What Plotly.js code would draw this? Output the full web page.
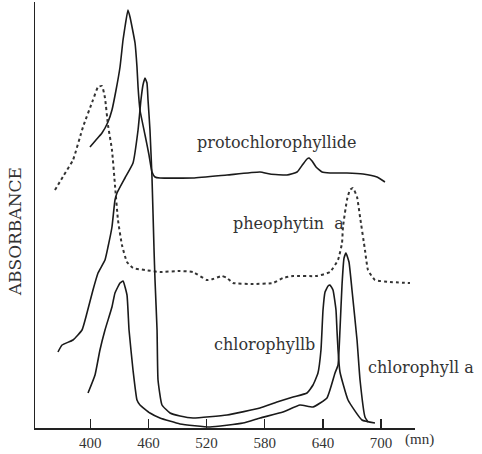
<!DOCTYPE html>
<html>
<head>
<meta charset="utf-8">
<script src="https://cdn.plot.ly/plotly-3.0.1.min.js"></script>
<style>html,body{margin:0;padding:0;background:#fff;}#chart{width:482px;height:454px;}</style>
</head>
<body>
<div id="chart"></div>
<script>
// Wavelength (nm) and absorbance (arbitrary units, curves offset as in the original figure)
const protoWl = [399.7,405.9,412.1,418.3,422.4,426.6,430.7,433.8,435.8,438.9,441,443.1,446.2,448.2,449.3,451.3,456.5,460.6,463.7,466.8,471.9,506,541.1,575.1,585.4,603,613.3,619.5,623.6,625.7,628.8,632.9,639.1,647.3,664.8,681.4,695.8,704];
const protoAbs = [281,288,295,306,318,338,361,388,401,418,411,401,385,361,341,318,293,273,256,251,250,250,253,256,254,253,256,264,269,270,267,261,256,255,255,254,251,246];

const pheoWl = [363.6,372.9,382.2,392.5,402.8,408,412.1,415.2,418.3,422.4,425.5,428.6,432.7,437.9,444.1,456.5,471.9,492.6,506,520.4,526.6,535.9,541.1,547.3,567.9,588.5,598.8,609.2,633.9,647.3,655.6,659.7,660.7,664.8,667.9,671,675.2,678.3,683.4,686.5,693.7,709.2,729.8];
const pheoAbs = [238,253,268,301,328,341,342,330,303,278,243,208,183,166,160,158,156,157,156,148,149,152,150,145,144,145,150,152,152,156,168,185,201,228,238,240,231,211,178,158,148,146,145];

const chlbWl = [366.7,370.9,382.2,391.5,396.6,402.8,408,415.2,418.3,422.4,425.5,427.6,435.8,444.1,449.3,452.3,454.4,456.5,458.5,459.6,461.6,463.7,465.8,466.8,468.9,469.9,474,482.3,492.6,506,541.1,575.1,592.6,609.2,623.6,629.8,634.9,638,640.1,642.2,645.3,647.3,650.4,653.5,654.5,655.6,657.6,665.9,680.3,693.7];
const chlbAbs = [76,83,88,98,115,138,155,168,181,201,228,235,250,265,298,328,343,350,345,328,298,250,178,148,98,48,23,15,12,10,13,20,26,31,35,43,55,78,118,136,142,143,138,118,98,78,56,28,8,5];

const chlaWl = [397.7,404.9,410,415.2,422.4,425.5,430.7,433.8,437.9,440,444.1,448.2,451.3,461.6,471.9,492.6,523.5,557.6,575.1,598.8,616.4,629.8,644.2,652.5,655.6,657.6,659.7,661.8,663.8,666.9,670,675.2,678.3,683.4,686.5];
const chlaAbs = [35,53,78,98,121,135,145,147,133,98,58,28,23,15,10,4,1,5,10,16,23,21,30,55,63,98,143,170,175,166,138,88,48,11,6];

const tickVals = [400,460,520,580,640,700];
const tickText = ['400','460','520','580','640','700'];

const solid = {color:'#1a1a1a', width:1.6, shape:'spline', smoothing:0.4};
const traces = [
  {name:'protochlorophyllide', x:protoWl, y:protoAbs, mode:'lines', line:solid},
  {name:'pheophytin a', x:pheoWl, y:pheoAbs, mode:'lines', line:{color:'#333', width:2, dash:'dot', shape:'spline', smoothing:0.4}},
  {name:'chlorophyll b', x:chlbWl, y:chlbAbs, mode:'lines', line:solid},
  {name:'chlorophyll a', x:chlaWl, y:chlaAbs, mode:'lines', line:solid}
];

const lblFont = {family:'DejaVu Serif, serif', size:16, color:'#333'};
function ann(text, x, y, font, extra) {
  return Object.assign({text:text, x:x, y:y, xref:'paper', yref:'paper', xanchor:'center', yanchor:'middle', showarrow:false, font:font}, extra || {});
}
const layout = {
  width:482, height:454,
  margin:{l:35, r:67, t:2, b:26},
  paper_bgcolor:'#fff', plot_bgcolor:'#fff',
  showlegend:false,
  xaxis:{range:[343,735], showline:true, linecolor:'#222', linewidth:1.5, ticks:'inside', ticklen:9, tickwidth:1.5, tickcolor:'#222',
         tickvals:tickVals, ticktext:tickText, showgrid:false, zeroline:false,
         tickfont:{family:'Liberation Serif, serif', size:15, color:'#333'}},
  yaxis:{range:[0,426], showline:true, linecolor:'#222', linewidth:1.5, ticks:'', showticklabels:false, showgrid:false, zeroline:false},
  annotations:[
    ann('protochlorophyllide', 0.637, 0.671, lblFont),
    ann('pheophytin\u00a0 a', 0.668, 0.481, lblFont),
    ann('chlorophyllb', 0.605, 0.195, lblFont),
    ann('chlorophyll a', 1.016, 0.143, lblFont),
    ann('(mn)', 1.013, -0.028, {family:'Liberation Serif, serif', size:15, color:'#333'}),
    ann('ABSORBANCE', -0.052, 0.46, {family:'DejaVu Serif, serif', size:17, color:'#333'}, {textangle:-90})
  ]
};
Plotly.newPlot('chart', traces, layout, {staticPlot:true, displayModeBar:false});
</script>
</body>
</html>
